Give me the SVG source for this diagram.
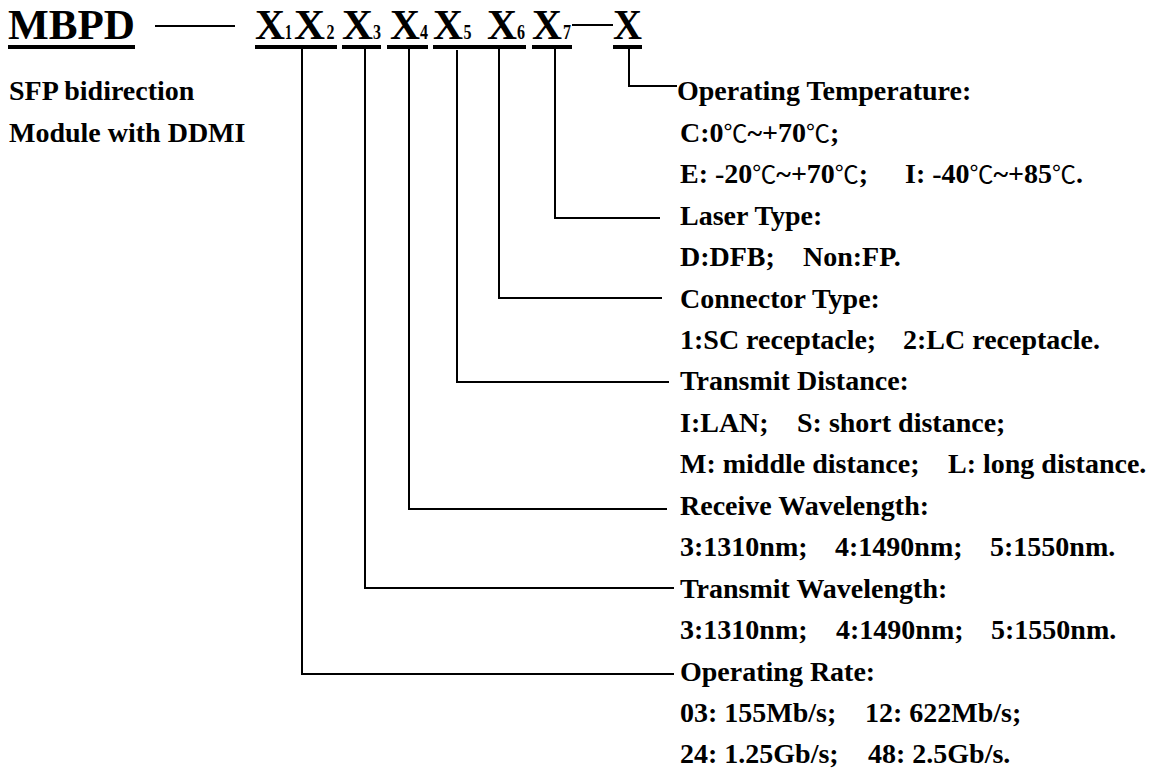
<svg xmlns="http://www.w3.org/2000/svg" width="1151" height="770" viewBox="0 0 1151 770">
<style>
text{font-family:"Liberation Serif","Times New Roman","Noto Sans CJK SC",serif;font-weight:bold;fill:#000}
.t{font-size:28px}
.big{font-size:42px}
.sub{font-size:20px}
.deg{font-family:"Noto Sans CJK SC","DejaVu Sans",sans-serif;font-weight:normal;font-size:24px}
.ul{fill:#000}
.c{fill:none;stroke:#000;stroke-width:2}
</style>
<rect width="1151" height="770" fill="#fff"/>
<g id="code">
<text class="big" x="8" y="39" textLength="127" lengthAdjust="spacingAndGlyphs">MBPD</text>
<rect class="ul" x="8" y="45" width="127" height="4"/>
<line x1="155" y1="26" x2="235" y2="26" stroke="#000" stroke-width="2"/>
<text class="big" x="255" y="39" textLength="30" lengthAdjust="spacingAndGlyphs">X</text><text class="sub" x="285" y="39" textLength="7" lengthAdjust="spacingAndGlyphs">1</text>
<text class="big" x="294" y="39" textLength="31" lengthAdjust="spacingAndGlyphs">X</text><text class="sub" x="326.5" y="39" textLength="8" lengthAdjust="spacingAndGlyphs">2</text>
<rect class="ul" x="255" y="45" width="82" height="4"/>
<text class="big" x="342" y="39" textLength="31" lengthAdjust="spacingAndGlyphs">X</text><text class="sub" x="373" y="39" textLength="8" lengthAdjust="spacingAndGlyphs">3</text>
<rect class="ul" x="342" y="45" width="39" height="4"/>
<text class="big" x="390" y="39" textLength="30" lengthAdjust="spacingAndGlyphs">X</text><text class="sub" x="420" y="39" textLength="8" lengthAdjust="spacingAndGlyphs">4</text>
<rect class="ul" x="387" y="45" width="41" height="4"/>
<text class="big" x="433" y="39" textLength="30" lengthAdjust="spacingAndGlyphs">X</text><text class="sub" x="463.5" y="39" textLength="8" lengthAdjust="spacingAndGlyphs">5</text>
<text class="big" x="487" y="39" textLength="30" lengthAdjust="spacingAndGlyphs">X</text><text class="sub" x="517" y="39" textLength="8" lengthAdjust="spacingAndGlyphs">6</text>
<rect class="ul" x="433" y="45" width="93" height="4"/>
<text class="big" x="532" y="39" textLength="30" lengthAdjust="spacingAndGlyphs">X</text><text class="sub" x="563" y="39" textLength="8" lengthAdjust="spacingAndGlyphs">7</text>
<rect class="ul" x="532" y="45" width="40" height="4"/>
<line x1="572" y1="25" x2="613" y2="25" stroke="#000" stroke-width="2"/>
<text class="big" x="613" y="39" textLength="29" lengthAdjust="spacingAndGlyphs">X</text>
<rect class="ul" x="613" y="45" width="29" height="4"/>
</g>
<g id="desc">
<text class="t" x="9" y="100">SFP bidirection</text>
<text class="t" x="9" y="142">Module with DDMI</text>
</g>
<g id="connectors">
<path class="c" d="M629 49V86H677"/>
<path class="c" d="M555 49V218H660"/>
<path class="c" d="M499 49V298H662"/>
<path class="c" d="M457 50V382H669"/>
<path class="c" d="M409 49V509H667"/>
<path class="c" d="M365 49V588H674"/>
<path class="c" d="M302 49V674H674"/>
</g>
<g id="temp">
<text class="t" x="677" y="100">Operating Temperature:</text>
<text class="t" x="680" y="141.5">C:0<tspan class="deg">℃</tspan>~+70<tspan class="deg">℃</tspan>;</text>
<text class="t" x="680" y="183">E: -20<tspan class="deg">℃</tspan>~+70<tspan class="deg">℃</tspan>;<tspan x="905">I: -40</tspan><tspan class="deg">℃</tspan>~+85<tspan class="deg">℃</tspan>.</text>
</g>
<g id="laser">
<text class="t" x="680" y="224.5">Laser Type:</text>
<text class="t" x="680" y="266">D:DFB;<tspan x="803">Non:FP.</tspan></text>
</g>
<g id="connector">
<text class="t" x="680" y="307.5">Connector Type:</text>
<text class="t" x="680" y="349">1:SC receptacle;<tspan x="903">2:LC receptacle.</tspan></text>
</g>
<g id="distance">
<text class="t" x="680" y="390">Transmit Distance:</text>
<text class="t" x="680" y="431.5">I:LAN;<tspan x="797">S: short distance;</tspan></text>
<text class="t" x="680" y="473">M: middle distance;<tspan x="948">L: long distance.</tspan></text>
</g>
<g id="rx">
<text class="t" x="680" y="514.5">Receive Wavelength:</text>
<text class="t" x="680" y="556">3:1310nm;<tspan x="835">4:1490nm;</tspan><tspan x="990">5:1550nm.</tspan></text>
</g>
<g id="tx">
<text class="t" x="680" y="597.5">Transmit Wavelength:</text>
<text class="t" x="680" y="639">3:1310nm;<tspan x="836">4:1490nm;</tspan><tspan x="991">5:1550nm.</tspan></text>
</g>
<g id="rate">
<text class="t" x="680" y="680.5">Operating Rate:</text>
<text class="t" x="680" y="722">03: 155Mb/s;<tspan x="865">12: 622Mb/s;</tspan></text>
<text class="t" x="680" y="763">24: 1.25Gb/s;<tspan x="868">48: 2.5Gb/s.</tspan></text>
</g>
</svg>
